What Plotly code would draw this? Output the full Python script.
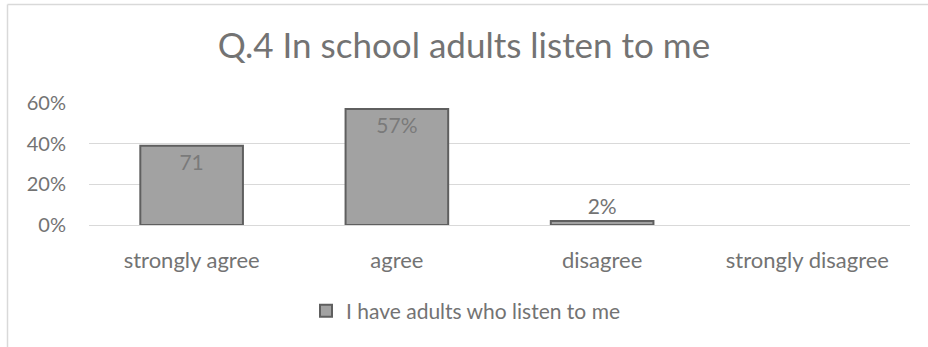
import plotly.graph_objects as go

categories = ["strongly agree", "agree", "disagree", "strongly disagree"]
values = [0.39, 0.57, 0.02, 0.0]
bar_labels = ["71", "57%", "2%", ""]
label_positions = ["inside", "inside", "outside", "none"]
series_name = "I have adults who listen to me"
title_text = "Q.4 In school adults listen to me"
tick_vals = [0, 0.2, 0.4, 0.6]
tick_text = ["0%", "20%", "40%", "60%"]

W, H = 928, 347
L, R, T, B = 89, 18, 103, 122
pw, ph = W - L - R, H - T - B

FONT = "Lato"
TXT = "#737373"

fig = go.Figure()
fig.add_trace(go.Bar(
    x=categories, y=values, name=series_name,
    text=bar_labels, textposition=label_positions,
    insidetextanchor="end",
    textfont=dict(family=FONT, size=21, color="#7a7a7a"),
    outsidetextfont=dict(family=FONT, size=21, color=TXT),
    insidetextfont=dict(family=FONT, size=21, color="#7a7a7a"),
    marker=dict(color="#a2a2a2", line=dict(color="#5f5f5f", width=[2, 2, 2, 0])),
    cliponaxis=False,
    showlegend=True,
))

def px_x(px):
    return (px - L) / pw

def px_y(py):
    return (H - B - py) / ph

fig.update_layout(
    width=W, height=H,
    margin=dict(l=L, r=R, t=T, b=B, autoexpand=False),
    paper_bgcolor="white", plot_bgcolor="white",
    bargap=0.5,
    title=dict(text=title_text, x=0.5, xanchor="center", y=1 - 46 / H, yanchor="middle",
               font=dict(family=FONT, size=35, color=TXT)),
    xaxis=dict(showgrid=False, showline=False, zeroline=False, ticks="",
               ticklabelstandoff=20,
               tickfont=dict(family=FONT, size=22, color=TXT)),
    yaxis=dict(range=[0, 0.6], tickvals=tick_vals, ticktext=tick_text,
               showgrid=True, gridcolor="#d9d9d9", gridwidth=1,
               zeroline=True, zerolinecolor="#d9d9d9", zerolinewidth=1,
               showline=False, ticks="", ticklabelstandoff=22,
               tickfont=dict(family=FONT, size=20, color=TXT)),
    legend=dict(orientation="h", x=px_x(306), xanchor="left", y=px_y(311), yanchor="middle",
                font=dict(family=FONT, size=21, color=TXT),
                itemwidth=30),
    shapes=[
        dict(type="line", xref="paper", yref="paper", x0=px_x(7.5), x1=px_x(7.5),
             y0=px_y(4.5), y1=px_y(H + 2), line=dict(color="#d9d9d9", width=1.5)),
        dict(type="line", xref="paper", yref="paper", x0=px_x(7.5), x1=px_x(W + 2),
             y0=px_y(4.5), y1=px_y(4.5), line=dict(color="#d9d9d9", width=1.5)),
    ],
)

fig.write_html("out.html", config={"displayModeBar": False},
               post_script="document.body.style.margin='0';document.body.style.overflow='hidden';")
